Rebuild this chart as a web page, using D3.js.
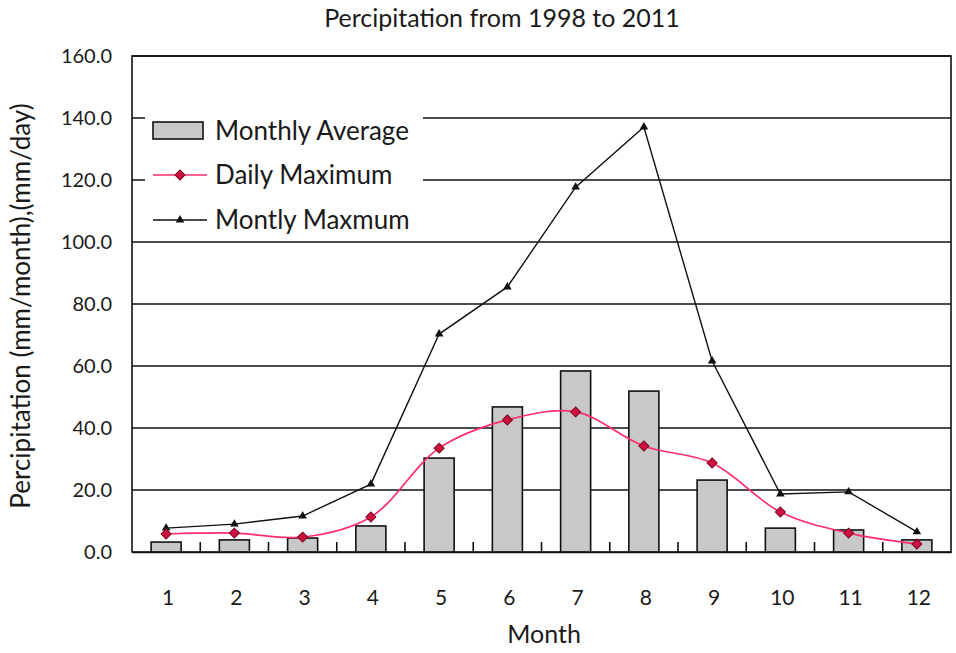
<!DOCTYPE html>
<html>
<head>
<meta charset="utf-8">
<script src="https://cdn.jsdelivr.net/npm/d3@7"></script>
<style>
  html, body { margin: 0; padding: 0; background: #fff; }
  svg { display: block; }
  text { font-family: Lato, "Open Sans", "Liberation Sans", sans-serif; fill: #1a1a1a; }
</style>
</head>
<body>
<svg id="chart" width="956" height="653"></svg>
<script>
// Monthly precipitation, 1998-2011
const months = ["1","2","3","4","5","6","7","8","9","10","11","12"];
const monthlyAverage = [3.2, 3.9, 4.5, 8.4, 30.3, 46.8, 58.4, 51.9, 23.2, 7.7, 7.1, 3.9];
const dailyMaximum   = [5.8, 6.1, 4.8, 11.3, 33.5, 42.6, 45.2, 34.2, 28.7, 12.9, 6.1, 2.6];
const monthlyMaximum = [7.7, 9.0, 11.6, 21.9, 70.3, 85.5, 117.7, 137.1, 61.6, 18.7, 19.4, 6.5];
const yTicks = [0, 20, 40, 60, 80, 100, 120, 140, 160];
const seriesNames = ["Monthly Average", "Daily Maximum", "Montly Maxmum"];

const svg = d3.select("#chart");
const margin = { left: 132, right: 5, top: 56, bottom: 101 };
const W = 956, H = 653;
const plotW = W - margin.left - margin.right;
const plotH = H - margin.top - margin.bottom;

const x = d3.scaleBand().domain(months).range([0, plotW]).paddingInner(0.56).paddingOuter(0.28);
const xc = d => x(d) + x.bandwidth() / 2;
const y = d3.scaleLinear().domain([0, 160]).range([plotH, 0]);

const g = svg.append("g").attr("transform", `translate(${margin.left},${margin.top})`);

// horizontal gridlines
g.append("g")
  .selectAll("line").data(yTicks.filter(t => t > 0)).join("line")
  .attr("x1", 0).attr("x2", plotW)
  .attr("y1", d => y(d)).attr("y2", d => y(d))
  .attr("stroke", "#111").attr("stroke-width", 1.6);

// plot frame
g.append("rect").attr("x", 0).attr("y", 0).attr("width", plotW).attr("height", plotH)
  .attr("fill", "none").attr("stroke", "#111").attr("stroke-width", 1.6);

// bars
g.append("g").selectAll("rect").data(monthlyAverage).join("rect")
  .attr("x", (d, i) => x(months[i]))
  .attr("y", d => y(d))
  .attr("width", x.bandwidth())
  .attr("height", d => y(0) - y(d))
  .attr("fill", "#c8c8c8").attr("stroke", "#111").attr("stroke-width", 1.6);

// x axis with inward tick marks between categories
const xAxis = d3.axisBottom(x).tickSize(0).tickPadding(38);
const xa = g.append("g").attr("transform", `translate(0,${plotH})`).call(xAxis);
xa.select(".domain").attr("stroke", "#111").attr("stroke-width", 1.6);
xa.selectAll("text").style("font-size", "21px").attr("fill", "#1a1a1a").attr("dx", 2);
g.append("g").selectAll("line").data(d3.range(1, 12)).join("line")
  .attr("x1", d => d * plotW / 12).attr("x2", d => d * plotW / 12)
  .attr("y1", plotH).attr("y2", plotH - 10)
  .attr("stroke", "#111").attr("stroke-width", 1.6);

// y axis
const yAxis = d3.axisLeft(y).tickValues(yTicks).tickFormat(d3.format(".1f")).tickSize(0).tickPadding(20);
const ya = g.append("g").call(yAxis);
ya.select(".domain").remove();
ya.selectAll("text").style("font-size", "20px").attr("fill", "#1a1a1a");

// legend (white panel over gridlines)
const lg = g.append("g").attr("transform", "translate(13,42)");
lg.append("rect").attr("x", 0).attr("y", 0).attr("width", 278).attr("height", 135).attr("fill", "#fff");

// Monthly maximum line
const line = d3.line().x((d, i) => xc(months[i])).y(d => y(d));
g.append("path").datum(monthlyMaximum).attr("d", line)
  .attr("fill", "none").attr("stroke", "#111").attr("stroke-width", 1.4);
const tri = d3.symbol().type(d3.symbolTriangle).size(32);
g.append("g").selectAll("path").data(monthlyMaximum).join("path")
  .attr("transform", (d, i) => `translate(${xc(months[i])},${y(d)})`)
  .attr("d", tri).attr("fill", "#111");

// Daily maximum smooth line
const curve = d3.line().x((d, i) => xc(months[i])).y(d => y(d)).curve(d3.curveCatmullRom.alpha(0.5));
g.append("path").datum(dailyMaximum).attr("d", curve)
  .attr("fill", "none").attr("stroke", "#ff2d6a").attr("stroke-width", 1.7);
const dia = d3.symbol().type(d3.symbolSquare).size(50);
g.append("g").selectAll("path").data(dailyMaximum).join("path")
  .attr("transform", (d, i) => `translate(${xc(months[i])},${y(d)}) rotate(45)`)
  .attr("d", dia).attr("fill", "#d0103f").attr("stroke", "#7a0020").attr("stroke-width", 1);

// legend entries
const entry = lg.selectAll("g.entry").data(seriesNames).join("g")
  .attr("class", "entry")
  .attr("transform", (d, i) => `translate(0,${[24, 77, 122][i]})`);
entry.filter((d, i) => i === 0).append("rect")
  .attr("x", 8).attr("y", 0).attr("width", 50).attr("height", 17)
  .attr("fill", "#c8c8c8").attr("stroke", "#111").attr("stroke-width", 1.6);
entry.filter((d, i) => i === 1).append("line")
  .attr("x1", 8).attr("x2", 62).attr("y1", 0).attr("y2", 0)
  .attr("stroke", "#ff2d6a").attr("stroke-width", 1.7);
entry.filter((d, i) => i === 1).append("path")
  .attr("transform", "translate(35,0) rotate(45)").attr("d", dia)
  .attr("fill", "#d0103f").attr("stroke", "#7a0020").attr("stroke-width", 1);
entry.filter((d, i) => i === 2).append("line")
  .attr("x1", 8).attr("x2", 62).attr("y1", 0).attr("y2", 0)
  .attr("stroke", "#111").attr("stroke-width", 1.4);
entry.filter((d, i) => i === 2).append("path")
  .attr("transform", "translate(35,0)").attr("d", tri).attr("fill", "#111");
entry.append("text")
  .attr("x", 70)
  .attr("y", (d, i) => i === 0 ? 9 : 0)
  .attr("dy", "0.35em")
  .style("font-size", "26px")
  .text(d => d);

// title and axis labels
svg.append("text").attr("x", 502).attr("y", 27).attr("text-anchor", "middle")
  .style("font-size", "25px").text("Percipitation from 1998 to 2011");
svg.append("text").attr("x", 544).attr("y", 643).attr("text-anchor", "middle")
  .style("font-size", "25px").text("Month");
svg.append("text").attr("transform", "translate(30,306) rotate(-90)").attr("text-anchor", "middle")
  .style("font-size", "26px").text("Percipitation (mm/month),(mm/day)");
</script>
</body>
</html>
